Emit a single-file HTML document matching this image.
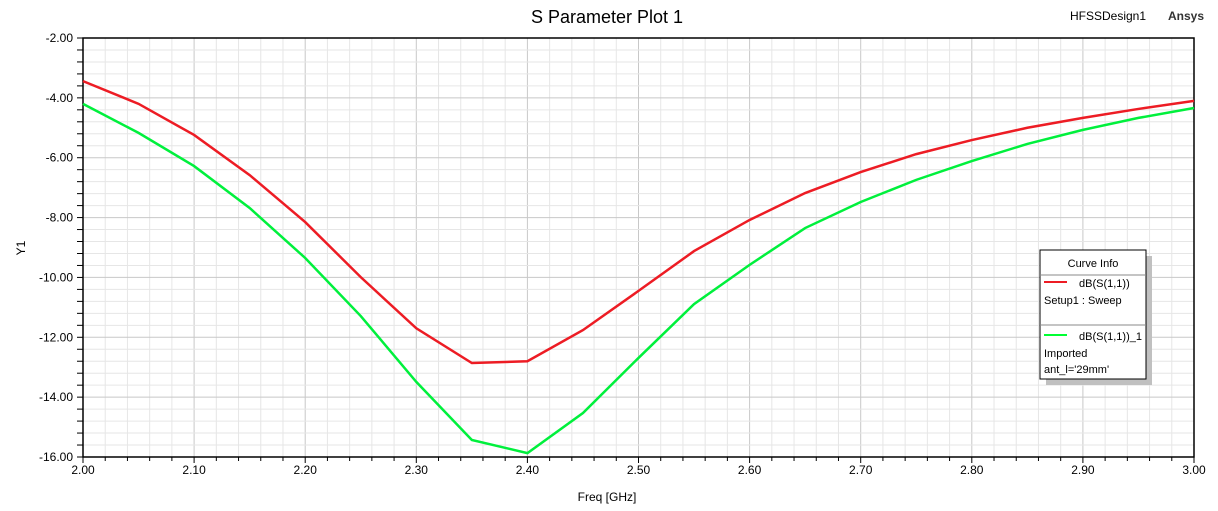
<!DOCTYPE html>
<html><head><meta charset="utf-8"><style>
body{margin:0;background:#fff;}
svg{display:block;font-family:"Liberation Sans",Arial,sans-serif;}
</style></head><body>
<svg id="chart" width="1218" height="511">
<text x="607" y="23" font-size="18" text-anchor="middle">S Parameter Plot 1</text>
<text x="1070" y="20" font-size="12">HFSSDesign1</text>
<text x="1168" y="20" font-size="12" font-weight="bold" fill="#333">Ansys</text>
<g id="grid"></g>
<g id="axes"></g>
<g id="series"></g>
<text x="607" y="501" font-size="12" text-anchor="middle">Freq [GHz]</text>
<text x="25" y="248" font-size="12" text-anchor="middle" transform="rotate(-90 25 248)">Y1</text>
<g>
<rect x="1046" y="256" width="106" height="129" fill="#c0c0c0"/>
<rect x="1040" y="250" width="106" height="129" fill="#fff" stroke="#000"/>
<text x="1093" y="267" font-size="11" text-anchor="middle">Curve Info</text>
<line x1="1040" y1="275" x2="1146" y2="275" stroke="#888"/>
<line x1="1044" y1="282" x2="1067" y2="282" stroke="#ed1c24" stroke-width="2"/>
<text x="1079" y="287" font-size="11">dB(S(1,1))</text>
<text x="1044" y="304" font-size="11">Setup1 : Sweep</text>
<line x1="1040" y1="325" x2="1146" y2="325" stroke="#888"/>
<line x1="1044" y1="335" x2="1067" y2="335" stroke="#00ff33" stroke-width="2"/>
<text x="1079" y="340" font-size="11">dB(S(1,1))_1</text>
<text x="1044" y="357" font-size="11">Imported</text>
<text x="1044" y="373" font-size="11">ant_l='29mm'</text>
</g>
</svg>
<script>
const freqs=[2.00,2.05,2.10,2.15,2.20,2.25,2.30,2.35,2.40,2.45,2.50,2.55,2.60,2.65,2.70,2.75,2.80,2.85,2.90,2.95,3.00];
const s11Sim=[-3.44,-4.2,-5.24,-6.58,-8.15,-9.99,-11.7,-12.86,-12.8,-11.76,-10.45,-9.12,-8.08,-7.18,-6.48,-5.88,-5.41,-5.0,-4.67,-4.37,-4.1];
const s11Imported=[-4.2,-5.17,-6.28,-7.68,-9.35,-11.29,-13.49,-15.43,-15.87,-14.53,-12.69,-10.89,-9.58,-8.35,-7.48,-6.74,-6.11,-5.54,-5.07,-4.67,-4.34];
const xTicks=[2.0,2.1,2.2,2.3,2.4,2.5,2.6,2.7,2.8,2.9,3.0];
const yTicks=[-2,-4,-6,-8,-10,-12,-14,-16];
const L=83,R=1194,T=38,B=457,X0=2,X1=3,Y0=-16,Y1=-2;
const sx=v=>L+(v-X0)/(X1-X0)*(R-L);
const sy=v=>B-(v-Y0)/(Y1-Y0)*(B-T);
const NS='http://www.w3.org/2000/svg';
function mk(tag,attrs,parent){const e=document.createElementNS(NS,tag);for(const k in attrs)e.setAttribute(k,attrs[k]);document.getElementById(parent).appendChild(e);return e;}
for(let i=0;i<=50;i++){const x=sx(X0+i*0.02);const major=i%5==0;
 const l=mk('line',{x1:x,x2:x,y1:T,y2:B,stroke:major?'#c8c8c8':'#e6e6e6','stroke-width':1},'grid');
 
 }
for(let i=0;i<=35;i++){const y=sy(Y0+i*0.4);const major=i%5==0;
 const l=mk('line',{x1:L,x2:R,y1:y,y2:y,stroke:major?'#c8c8c8':'#e6e6e6','stroke-width':1},'grid');
 
 
 mk('line',{x1:L-6,x2:L,y1:y,y2:y,stroke:'#000'},'axes');}
mk('rect',{x:L,y:T,width:R-L,height:B-T,fill:'none',stroke:'#000','stroke-width':1.5},'axes');
for(let i=0;i<=50;i++){const x=sx(X0+i*0.02);mk('line',{x1:x,x2:x,y1:B,y2:B+(i%5==0?6:4),stroke:'#000'},'axes');}
xTicks.forEach(v=>{const t=mk('text',{x:sx(v),y:B+17,'font-size':12,'text-anchor':'middle'},'axes');t.textContent=v.toFixed(2);
 
 });
yTicks.forEach(v=>{const t=mk('text',{x:L-10,y:sy(v)+4,'font-size':12,'text-anchor':'end'},'axes');t.textContent=v.toFixed(2);
 
 });
function line(vals,color,name){const p=mk('polyline',{points:freqs.map((f,i)=>sx(f)+','+sy(vals[i])).join(' '),fill:'none',stroke:color,'stroke-width':2.5},'series');
 
 }
line(s11Sim,'#ed1c24','series-s11-sim');
line(s11Imported,'#00f03c','series-s11-imported');
</script>
</body></html>
